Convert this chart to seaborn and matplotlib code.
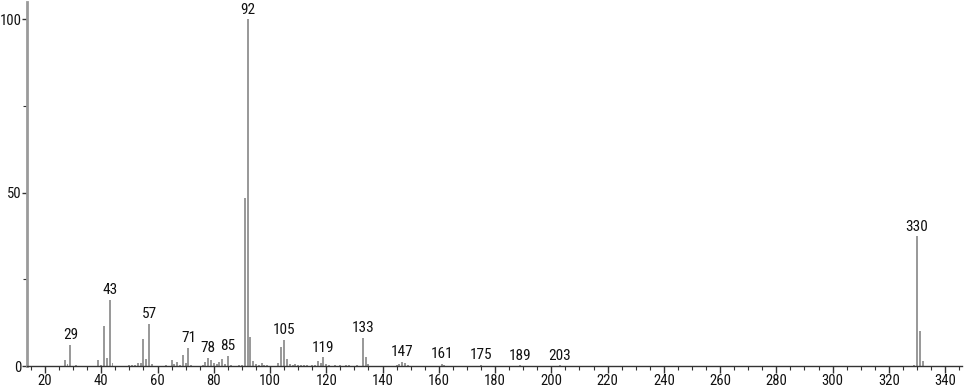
import matplotlib
matplotlib.use("Agg")
import matplotlib.pyplot as plt
import seaborn as sns
import pandas as pd
from matplotlib.ticker import MultipleLocator
from matplotlib import font_manager

# m/z values and relative intensities
mz = [27, 28, 29, 31, 39, 40, 41, 42, 43, 44, 50, 51, 52, 53, 54, 55, 56, 57, 58,
      63, 65, 66, 67, 68, 69, 70, 71, 72, 76, 77, 78, 79, 80, 81, 82, 83, 84, 85, 86,
      89, 90, 91, 92, 93, 94, 95, 96, 97, 98, 99, 103, 104, 105, 106, 107, 108, 109,
      110, 111, 112, 113, 115, 116, 117, 118, 119, 120, 121, 123, 125, 127, 128, 131,
      133, 134, 135, 145, 146, 147, 148, 149, 161, 162, 175, 189, 203,
      329, 330, 331, 332]
intensity = [1.8, 0.6, 6.0, 0.3, 1.7, 0.3, 11.6, 2.2, 19.0, 0.8, 0.3, 0.4, 0.3, 0.8, 1.0,
             7.8, 2.0, 12.1, 0.5, 0.3, 1.7, 0.5, 1.1, 0.4, 3.2, 1.0, 5.3, 0.3, 0.3, 1.2,
             2.3, 1.8, 0.8, 0.6, 1.2, 2.0, 0.5, 2.9, 0.3, 0.3, 0.4, 48.6, 100.0, 8.3,
             1.5, 0.5, 0.3, 0.8, 0.3, 0.3, 0.8, 5.4, 7.6, 2.0, 0.6, 0.3, 0.5, 0.3, 0.4,
             0.3, 0.3, 0.4, 0.3, 1.5, 1.0, 2.5, 0.6, 0.4, 0.3, 0.3, 0.3, 0.3, 0.4,
             8.0, 2.7, 0.6, 0.3, 0.5, 1.2, 1.0, 0.4, 0.6, 0.3, 0.3, 0.2, 0.2,
             0.3, 37.4, 10.0, 1.3]
labeled_peaks = [29, 43, 57, 71, 78, 85, 92, 105, 119, 133, 147, 161, 175, 189, 203, 330]
x_ticks = list(range(20, 341, 20))
y_ticks = [0, 50, 100]

sns.set_style("ticks")
available = {f.name for f in font_manager.fontManager.ttflist}
chosen = "Lato"
fsize = 9.5
for name, size in [("Liberation Sans Narrow", 10.5), ("Roboto Condensed", 10.5),
                   ("DejaVu Sans Condensed", 9.5)]:
    if name in available:
        chosen, fsize = name, size
        break
plt.rcParams["font.family"] = [chosen, "DejaVu Sans"]

df = pd.DataFrame({"mz": mz, "intensity": intensity})

fig = plt.figure(figsize=(9.66, 3.89), dpi=100)
ax = fig.add_axes([27 / 966, 23 / 389, 935 / 966, 364 / 389])

sns.barplot(data=df, x="mz", y="intensity", native_scale=True, width=0.7,
            color="#9a9a9a", saturation=1, linewidth=0, ax=ax)

for m, v in zip(mz, intensity):
    if m in labeled_peaks:
        ax.annotate(str(m), (m, v), xytext=(0, 2), textcoords="offset points",
                    ha="center", va="bottom", fontsize=fsize + 0.5, color="#111111")

ax.set_xlim(13.6, 346)
ax.set_ylim(0, 105)
ax.set_xticks(x_ticks)
ax.set_yticks(y_ticks)
ax.xaxis.set_minor_locator(MultipleLocator(5))
ax.yaxis.set_minor_locator(MultipleLocator(25))
ax.set_xlabel("")
ax.set_ylabel("")

for s in ["top", "right"]:
    ax.spines[s].set_visible(False)
ax.spines["left"].set_color("#9a9a9a")
ax.spines["left"].set_linewidth(2)
ax.spines["bottom"].set_color("#333333")
ax.spines["bottom"].set_linewidth(1)

ax.tick_params(axis="x", which="major", length=5, width=1, color="#333333",
               labelsize=fsize, pad=0.5, labelcolor="#111111")
ax.tick_params(axis="x", which="minor", length=3, width=0.8, color="#333333")
ax.tick_params(axis="y", which="major", length=3.5, width=1, color="#333333",
               labelsize=fsize, pad=0.5, labelcolor="#111111")
ax.tick_params(axis="y", which="minor", length=3, width=0.8, color="#333333")

fig.savefig("out.png", dpi=100)
